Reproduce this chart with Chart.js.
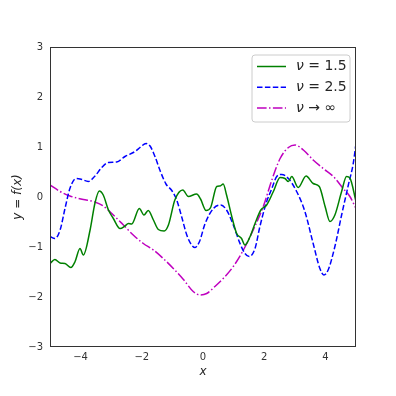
<!DOCTYPE html>
<html>
<head>
<meta charset="utf-8">
<script src="https://cdn.jsdelivr.net/npm/chart.js@4/dist/chart.umd.min.js"></script>
<style>
  html, body { margin: 0; padding: 0; background: #fff; }
  #wrap { width: 396px; height: 396px; }
</style>
</head>
<body>
<div id="wrap"><canvas id="gp" width="396" height="396"></canvas></div>
<script>
// sample paths
var nu15X = [-5, -4.84, -4.67, -4.51, -4.32, -4.18, -4.02, -3.91, -3.69, -3.53, -3.39, -3.26, -3.09, -2.93, -2.71, -2.55, -2.44, -2.33, -2.08, -1.93, -1.79, -1.62, -1.46, -1.27, -1.13, -0.92, -0.66, -0.48, -0.21, -0.08, 0.10, 0.25, 0.45, 0.56, 0.66, 0.77, 0.94, 1.10, 1.26, 1.37, 1.54, 1.70, 1.89, 2.08, 2.30, 2.52, 2.68, 2.79, 2.90, 3.11, 3.37, 3.60, 3.80, 3.99, 4.15, 4.31, 4.53, 4.69, 4.80, 5];
var nu15Y = [-1.33, -1.25, -1.32, -1.33, -1.41, -1.29, -1.03, -1.16, -0.66, -0.12, 0.12, 0.04, -0.26, -0.43, -0.63, -0.58, -0.53, -0.54, -0.23, -0.36, -0.27, -0.46, -0.65, -0.68, -0.56, -0.06, 0.14, 0.01, 0.06, -0.04, -0.27, -0.21, 0.21, 0.22, 0.26, 0.04, -0.39, -0.73, -0.83, -0.96, -0.79, -0.53, -0.26, -0.16, 0.11, 0.39, 0.37, 0.31, 0.41, 0.19, 0.42, 0.27, 0.21, -0.19, -0.49, -0.36, 0.11, 0.41, 0.38, -0.09];

var nu25X = [-5, -4.84, -4.67, -4.51, -4.35, -4.15, -3.96, -3.75, -3.53, -3.31, -3.09, -2.82, -2.55, -2.22, -2.06, -1.86, -1.73, -1.57, -1.41, -1.21, -1.02, -0.86, -0.70, -0.53, -0.37, -0.26, -0.12, 0.07, 0.34, 0.58, 0.77, 0.99, 1.21, 1.37, 1.51, 1.70, 1.86, 2.06, 2.25, 2.41, 2.57, 2.79, 3.06, 3.33, 3.60, 3.82, 3.95, 4.09, 4.31, 4.53, 4.75, 4.91, 5];
var nu25Y = [-0.79, -0.83, -0.66, -0.23, 0.17, 0.37, 0.35, 0.31, 0.42, 0.59, 0.69, 0.70, 0.81, 0.91, 0.99, 1.07, 1.02, 0.81, 0.54, 0.26, 0.13, -0.06, -0.39, -0.76, -0.96, -1.01, -0.90, -0.53, -0.23, -0.16, -0.26, -0.56, -0.93, -1.13, -1.19, -1.03, -0.59, -0.13, 0.17, 0.41, 0.45, 0.37, 0.11, -0.29, -0.93, -1.43, -1.56, -1.46, -0.99, -0.36, 0.24, 0.67, 1.07];

var nuInfX = [-5, -4.67, -4.35, -3.91, -3.58, -3.26, -2.93, -2.60, -2.28, -1.95, -1.62, -1.30, -0.97, -0.64, -0.32, -0.10, 0.12, 0.39, 0.66, 0.99, 1.32, 1.64, 1.97, 2.25, 2.52, 2.79, 3.01, 3.28, 3.60, 3.93, 4.26, 4.58, 4.80, 5];
var nuInfY = [0.24, 0.11, 0.02, -0.05, -0.09, -0.18, -0.36, -0.56, -0.76, -0.93, -1.06, -1.23, -1.43, -1.65, -1.89, -1.96, -1.93, -1.79, -1.63, -1.39, -1.06, -0.66, -0.19, 0.34, 0.77, 0.99, 1.04, 0.94, 0.74, 0.57, 0.41, 0.17, 0.01, -0.23];

var seriesLabels = ['\u03bd = 1.5', '\u03bd = 2.5', '\u03bd \u2192 \u221e'];
var xTicks = [-4, -2, 0, 2, 4];
var yTicks = [-3, -2, -1, 0, 1, 2, 3];

var FONT = "'DejaVu Sans', sans-serif";
var INK = '#333333';

function pts(xs, ys){ return xs.map(function(x, i){ return { x: x, y: ys[i] }; }); }
function fmt(v){ return v < 0 ? '\u2212' + Math.abs(v) : String(v); }

// matplotlib-ish frame + legend drawn inside the axes
var framePlugin = {
  id: 'frame',
  afterDraw: function(chart){
    var ctx = chart.ctx, a = chart.chartArea;
    ctx.save();
    ctx.strokeStyle = INK; ctx.lineWidth = 1;
    ctx.strokeRect(a.left + 0.5, a.top + 0.5, a.right - a.left - 1, a.bottom - a.top - 1);

    // legend box
    var bx = 252, by = 55, bw = 98, bh = 67, r = 3;
    ctx.beginPath();
    ctx.moveTo(bx + r, by); ctx.lineTo(bx + bw - r, by); ctx.arcTo(bx + bw, by, bx + bw, by + r, r);
    ctx.lineTo(bx + bw, by + bh - r); ctx.arcTo(bx + bw, by + bh, bx + bw - r, by + bh, r);
    ctx.lineTo(bx + r, by + bh); ctx.arcTo(bx, by + bh, bx, by + bh - r, r);
    ctx.lineTo(bx, by + r); ctx.arcTo(bx, by, bx + r, by, r);
    ctx.closePath();
    ctx.fillStyle = 'rgba(255,255,255,0.8)'; ctx.fill();
    ctx.strokeStyle = '#cccccc'; ctx.stroke();

    chart.data.datasets.forEach(function(ds, i){
      var y = 66.5 + i * 20.8;
      ctx.beginPath();
      ctx.setLineDash(ds.borderDash || []);
      ctx.strokeStyle = ds.borderColor; ctx.lineWidth = ds.borderWidth;
      ctx.moveTo(257, y); ctx.lineTo(286, y); ctx.stroke();
      ctx.setLineDash([]);
      var lbl = ds.label;
      ctx.fillStyle = '#262626'; ctx.textBaseline = 'middle'; ctx.textAlign = 'left';
      ctx.font = 'italic 14px ' + FONT;
      ctx.fillText(lbl.charAt(0), 296, y);
      var w = ctx.measureText(lbl.charAt(0)).width;
      ctx.font = '14px ' + FONT;
      ctx.fillText(lbl.slice(1), 296 + w, y);
    });
    ctx.restore();
  }
};

var lineStyles = [
  { color: '#008000', dash: [] },
  { color: '#0000ff', dash: [5.5, 2.4] },
  { color: '#bf00bf', dash: [9.6, 2.4, 1.5, 2.4] }
];
var seriesData = [pts(nu15X, nu15Y), pts(nu25X, nu25Y), pts(nuInfX, nuInfY)];

new Chart(document.getElementById('gp'), {
  type: 'line',
  data: {
    datasets: seriesData.map(function(d, i){
      return {
        label: seriesLabels[i],
        data: d,
        borderColor: lineStyles[i].color,
        borderDash: lineStyles[i].dash,
        borderWidth: 1.5,
        pointRadius: 0,
        fill: false,
        cubicInterpolationMode: 'monotone'
      };
    })
  },
  options: {
    responsive: false,
    animation: false,
    devicePixelRatio: 1,
    layout: { padding: { top: 47, right: 40, left: 0, bottom: 0 } },
    plugins: { legend: { display: false }, tooltip: { enabled: false } },
    scales: {
      x: {
        type: 'linear', min: -5, max: 5,
        grid: { display: false, drawTicks: false },
        border: { display: false },
        afterBuildTicks: function(s){ s.ticks = xTicks.map(function(v){ return { value: v }; }); },
        afterFit: function(s){ s.height = 49; },
        ticks: { color: INK, font: { family: FONT, size: 10 }, padding: 4, maxRotation: 0, callback: function(v){ return fmt(v); } },
        title: { display: true, text: 'x', color: '#262626', font: { family: FONT, size: 12, style: 'italic' }, padding: { top: 0, bottom: 17 } }
      },
      y: {
        type: 'linear', min: -3, max: 3,
        grid: { display: false, drawTicks: false },
        border: { display: false },
        afterBuildTicks: function(s){ s.ticks = yTicks.map(function(v){ return { value: v }; }); },
        afterFit: function(s){ s.width = 50; },
        ticks: { color: INK, font: { family: FONT, size: 10 }, padding: 7, callback: function(v){ return fmt(v); } },
        title: { display: true, text: 'y = f(x)', color: '#262626', font: { family: FONT, size: 12, style: 'italic' }, padding: { top: 11, bottom: 0 } }
      }
    }
  },
  plugins: [framePlugin]
});
</script>
</body>
</html>
